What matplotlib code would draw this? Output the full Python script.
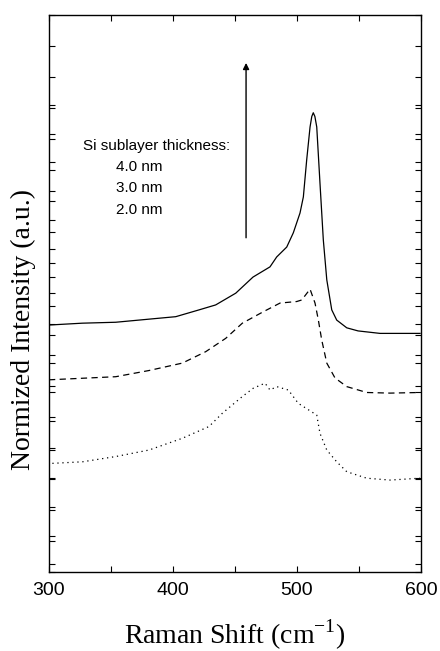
"""
Raman spectra of Si/SiO2 multilayers with different Si sublayer thickness.
"""

import numpy as np
import matplotlib
matplotlib.use("Agg")
import matplotlib.pyplot as plt

# ── Data (arbitrary intensity units, stacked) ───────────────────────────────
shift_40 = [300.0, 326.9, 353.8, 380.6, 402.2, 421.0, 434.4, 450.6, 464.5, 478.2,
            483.6, 491.7, 497.0, 502.4, 505.1, 507.8, 510.5, 511.9, 513.1, 514.4,
            515.9, 518.5, 521.2, 524.0, 528.0, 532.0, 540.1, 549.2, 566.9, 599.2]
int_40 = [7.98, 8.04, 8.07, 8.17, 8.25, 8.47, 8.63, 9.01, 9.53, 9.86,
          10.18, 10.50, 10.96, 11.60, 12.12, 13.32, 14.38, 14.72, 14.84, 14.72,
          14.38, 12.57, 10.73, 9.44, 8.47, 8.14, 7.89, 7.79, 7.71, 7.71]

shift_30 = [300.0, 326.9, 353.8, 380.6, 407.5, 426.4, 442.5, 455.9, 472.8, 486.3,
            499.8, 503.8, 510.5, 514.5, 517.2, 519.9, 524.0, 530.6, 540.1, 556.2,
            575.0, 599.2]
int_30 = [6.21, 6.26, 6.31, 6.51, 6.75, 7.12, 7.55, 8.04, 8.41, 8.69,
          8.74, 8.79, 9.14, 8.69, 8.14, 7.50, 6.75, 6.27, 5.99, 5.80,
          5.78, 5.80]

shift_20 = [302.7, 326.9, 353.8, 380.6, 407.5, 429.0, 439.8, 455.9, 464.8, 474.2,
            478.2, 483.6, 493.0, 501.0, 515.9, 518.5, 524.0, 532.0, 540.1, 556.2,
            575.0, 599.2]
int_20 = [3.51, 3.56, 3.73, 3.94, 4.32, 4.70, 5.13, 5.67, 5.94, 6.10,
          5.88, 5.99, 5.88, 5.45, 5.07, 4.48, 3.94, 3.56, 3.24, 3.03,
          2.97, 3.03]

legend_title = "Si sublayer thickness:"
legend_labels = ["4.0 nm", "3.0 nm", "2.0 nm"]

x_ticks = [300, 400, 500, 600]
arrow_x = 458.9
arrow_y = (10.80, 16.45)

SANS = "Liberation Sans"
SERIF = "Liberation Serif"


def main():
    fig = plt.figure(figsize=(4.4, 6.51), dpi=100)
    ax = fig.add_axes([0.1114, 0.1214, 0.8455, 0.8556])

    # ── Spectra ────────────────────────────────────────────────────────────
    ax.plot(shift_40, int_40, color="black", lw=0.9, linestyle="-")
    ax.plot(shift_30, int_30, color="black", lw=0.9, linestyle=(0, (5, 3.5)))
    ax.plot(shift_20, int_20, color="black", lw=0.9, linestyle=(0, (1, 3)))

    # ── Arrow + annotation ─────────────────────────────────────────────────
    ax.annotate("", xy=(arrow_x, arrow_y[1]), xytext=(arrow_x, arrow_y[0]),
                arrowprops=dict(arrowstyle="-|>", color="black", lw=1.0,
                                mutation_scale=9, shrinkA=0, shrinkB=0))
    ax.text(0.0914, 0.765, legend_title, transform=ax.transAxes,
            fontsize=11, family=SANS, va="center", ha="left")
    for i, lab in enumerate(legend_labels):
        ax.text(0.180, 0.727 - 0.0385 * i, lab, transform=ax.transAxes,
                fontsize=11, family=SANS, va="center", ha="left")

    # ── Axes ───────────────────────────────────────────────────────────────
    ax.set_xlim(300, 600)
    ax.set_ylim(0, 18)
    ax.set_xticks(x_ticks)
    ax.set_xticks([350, 450, 550], minor=True)
    ax.set_xticklabels([str(t) for t in x_ticks], fontsize=14, family=SANS)

    ax.set_yticks(np.arange(0, 19))
    ax.set_yticks(15.09 - 0.928 * np.arange(0, 17), minor=True)
    ax.set_yticklabels([])

    ax.tick_params(axis="both", which="both", direction="in", length=4, width=0.8,
                   top=True, right=True, color="black")
    ax.tick_params(axis="x", which="major", pad=7)

    for spine in ax.spines.values():
        spine.set_linewidth(1.0)
        spine.set_color("black")

    ax.set_xlabel("Raman Shift (cm$^{\\mathregular{-1}}$)", fontsize=20, family=SERIF,
                  labelpad=14)
    fig.text(23 / 440, 1 - 330 / 651, "Normized Intensity (a.u.)", rotation=90,
             fontsize=20, family=SERIF, ha="center", va="center")

    fig.savefig("out.png", dpi=100)
    plt.close(fig)


if __name__ == "__main__":
    main()
